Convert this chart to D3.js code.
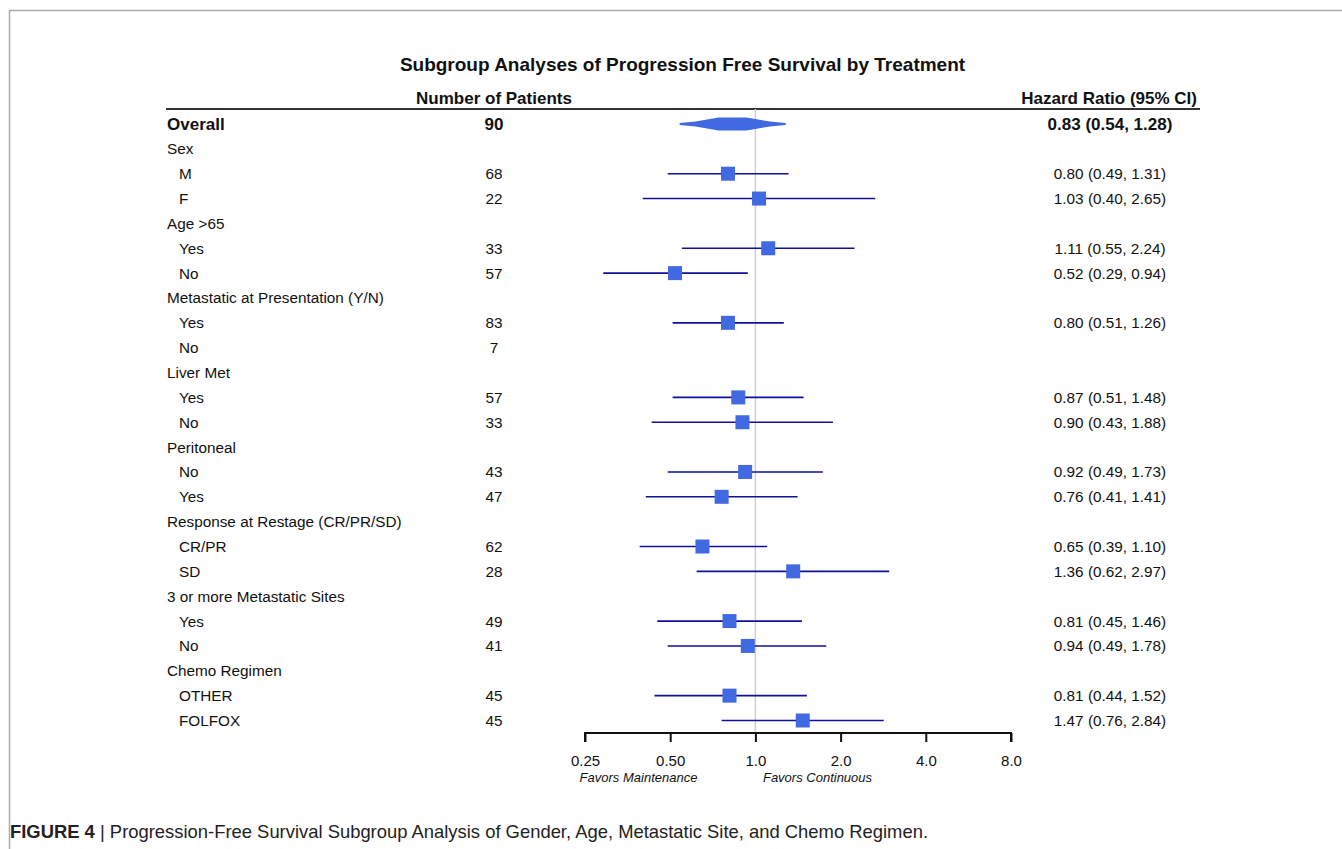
<!DOCTYPE html>
<html><head><meta charset="utf-8">
<script src="https://cdn.jsdelivr.net/npm/d3@7"></script>
<style>
html,body{margin:0;padding:0;background:#fff;}
svg{display:block;font-family:"Liberation Sans",Arial,sans-serif;}
</style></head>
<body>
<svg id="c" width="1342" height="849"></svg>
<script>
// ---- data ----
const labels = ["Overall","Sex","M","F","Age >65","Yes","No","Metastatic at Presentation (Y/N)","Yes","No","Liver Met","Yes","No","Peritoneal","No","Yes","Response at Restage (CR/PR/SD)","CR/PR","SD","3 or more Metastatic Sites","Yes","No","Chemo Regimen","OTHER","FOLFOX"];
const indent = [0,0,1,1,0,1,1,0,1,1,0,1,1,0,1,1,0,1,1,0,1,1,0,1,1];
const nPatients = [90,null,68,22,null,33,57,null,83,7,null,57,33,null,43,47,null,62,28,null,49,41,null,45,45];
const hr    = [0.83,null,0.80,1.03,null,1.11,0.52,null,0.80,null,null,0.87,0.90,null,0.92,0.76,null,0.65,1.36,null,0.81,0.94,null,0.81,1.47];
const lower = [0.54,null,0.49,0.40,null,0.55,0.29,null,0.51,null,null,0.51,0.43,null,0.49,0.41,null,0.39,0.62,null,0.45,0.49,null,0.44,0.76];
const upper = [1.28,null,1.31,2.65,null,2.24,0.94,null,1.26,null,null,1.48,1.88,null,1.73,1.41,null,1.10,2.97,null,1.46,1.78,null,1.52,2.84];
const tickValues = [0.25,0.5,1,2,4,8];
const tickLabels = ["0.25","0.50","1.0","2.0","4.0","8.0"];

const svg = d3.select("#c");

// frame
svg.append("line").attr("x1",9).attr("x2",1342).attr("y1",10.5).attr("y2",10.5).attr("stroke","#aaa").attr("stroke-width",1.5);
svg.append("line").attr("x1",9.5).attr("x2",9.5).attr("y1",10).attr("y2",849).attr("stroke","#aaa").attr("stroke-width",1.5);

// scales
const x = d3.scaleLog().base(2).domain([0.25,8]).range([585,1011]);
const y = d3.scaleLinear().domain([0,labels.length-1]).range([124,720.5]);
const axisY = 733;

// title & headers
svg.append("text").attr("x",682.5).attr("y",71).attr("text-anchor","middle")
  .attr("font-size",19).attr("font-weight","bold").attr("fill","#111")
  .text("Subgroup Analyses of Progression Free Survival by Treatment");
svg.append("text").attr("x",494).attr("y",104).attr("text-anchor","middle")
  .attr("font-size",17).attr("font-weight","bold").attr("fill","#111").text("Number of Patients");
svg.append("text").attr("x",1197).attr("y",104).attr("text-anchor","end")
  .attr("font-size",17).attr("font-weight","bold").attr("fill","#111").text("Hazard Ratio (95% CI)");
svg.append("line").attr("x1",166).attr("x2",1200).attr("y1",109).attr("y2",109).attr("stroke","#333").attr("stroke-width",2);

// reference line
svg.append("line").attr("x1",x(1)).attr("x2",x(1)).attr("y1",109).attr("y2",axisY)
  .attr("stroke","#cfcfcf").attr("stroke-width",1.5);

const rows = labels.map((l,i)=>({label:l,indent:indent[i],n:nPatients[i],hr:hr[i],lo:lower[i],hi:upper[i],i}));

// text columns
const fs = d => d.i===0 ? 17 : 15.3;
const g = svg.append("g").attr("fill","#111");
g.selectAll("text.lab").data(rows).join("text")
  .attr("x",d=>d.indent?179:167).attr("y",d=>y(d.i)+5.5).attr("font-size",fs)
  .attr("font-weight",d=>d.i===0?"bold":null).text(d=>d.label);
g.selectAll("text.n").data(rows.filter(d=>d.n!=null)).join("text")
  .attr("x",494).attr("y",d=>y(d.i)+5.5).attr("text-anchor","middle").attr("font-size",fs)
  .attr("font-weight",d=>d.i===0?"bold":null).text(d=>d.n);
const f2 = d3.format(".2f");
g.selectAll("text.hr").data(rows.filter(d=>d.hr!=null)).join("text")
  .attr("x",1110).attr("y",d=>y(d.i)+5.5).attr("text-anchor","middle").attr("font-size",fs)
  .attr("font-weight",d=>d.i===0?"bold":null)
  .text(d=>`${f2(d.hr)} (${f2(d.lo)}, ${f2(d.hi)})`);

// CI lines and squares
const sub = rows.filter(d=>d.hr!=null && d.i>0);
svg.selectAll("line.ci").data(sub).join("line")
  .attr("x1",d=>x(d.lo)).attr("x2",d=>x(d.hi)).attr("y1",d=>y(d.i)).attr("y2",d=>y(d.i))
  .attr("stroke","#10109a").attr("stroke-width",1.6);
const s = 14;
svg.selectAll("rect.sq").data(sub).join("rect")
  .attr("x",d=>x(d.hr)-s/2).attr("y",d=>y(d.i)-s/2).attr("width",s).attr("height",s)
  .attr("fill","#4169E1");

// overall diamond
const o = rows[0];
const L = x(o.lo), C = x(o.hr), R = x(o.hi), yc = y(0);
const pts = [[L,yc-1],[L+16,yc-2.5],[C-14,yc-6.5],[C+14,yc-6.5],[R-16,yc-2.5],[R,yc-1],
             [R,yc+1],[R-16,yc+2.5],[C+14,yc+6.5],[C-14,yc+6.5],[L+16,yc+2.5],[L,yc+1]];
svg.append("path").attr("d",d3.line().curve(d3.curveLinearClosed)(pts)).attr("fill","#4169E1");

// axis
const ax = svg.append("g").attr("transform",`translate(0,${axisY})`)
  .call(d3.axisBottom(x).tickValues(tickValues).tickSize(9).tickPadding(13)
        .tickFormat((d,i)=>tickLabels[i]));
ax.select(".domain").attr("stroke","#111").attr("stroke-width",2).attr("d",`M${x(0.25)},9V0H${x(8)}V9`);
ax.selectAll(".tick line").attr("stroke","#111").attr("stroke-width",2);
ax.selectAll(".tick text").attr("font-size",15).attr("fill","#111").attr("font-family","Liberation Sans, Arial, sans-serif");

svg.append("text").attr("x",638.5).attr("y",782).attr("text-anchor","middle")
  .attr("font-size",13).attr("font-style","italic").attr("fill","#111").text("Favors Maintenance");
svg.append("text").attr("x",817.5).attr("y",782).attr("text-anchor","middle")
  .attr("font-size",13).attr("font-style","italic").attr("fill","#111").text("Favors Continuous");

// caption
const cap = svg.append("text").attr("x",10).attr("y",838).attr("font-size",18.5)
  .attr("font-family","'Liberation Sans Narrow','Liberation Sans',Arial,sans-serif").attr("fill","#222");
cap.append("tspan").attr("font-weight","bold").text("FIGURE 4");
cap.append("tspan").text(" | Progression-Free Survival Subgroup Analysis of Gender, Age, Metastatic Site, and Chemo Regimen.");
cap.attr("textLength",918).attr("lengthAdjust","spacingAndGlyphs");
</script>
</body></html>
